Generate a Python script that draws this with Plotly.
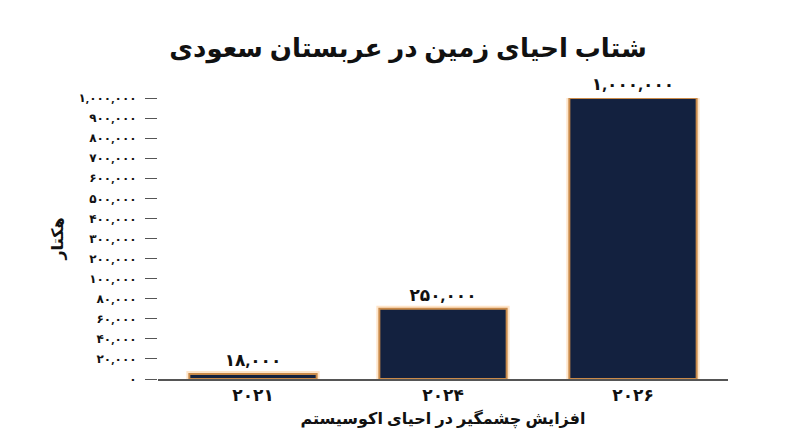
import plotly.graph_objects as go

years = ["۲۰۲۱", "۲۰۲۴", "۲۰۲۶"]
values = [18000, 250000, 1000000]
value_labels = ["۱۸,۰۰۰", "۲۵۰,۰۰۰", "۱,۰۰۰,۰۰۰"]
tick_labels = ["۰", "۲۰,۰۰۰", "۴۰,۰۰۰", "۶۰,۰۰۰", "۸۰,۰۰۰", "۱۰۰,۰۰۰", "۲۰۰,۰۰۰",
               "۳۰۰,۰۰۰", "۴۰۰,۰۰۰", "۵۰۰,۰۰۰", "۶۰۰,۰۰۰", "۷۰۰,۰۰۰", "۸۰۰,۰۰۰",
               "۹۰۰,۰۰۰", "۱,۰۰۰,۰۰۰"]
vmax = 1000000
tick_vals = [vmax * i / (len(tick_labels) - 1) for i in range(len(tick_labels))]

def b(s):
    return "<b>" + s + "</b>"

font = "Noto Sans, DejaVu Sans"
fig = go.Figure()
fig.add_trace(go.Bar(x=years, y=values, marker=dict(color="rgba(0,0,0,0)",
              line=dict(color="rgba(255,150,40,0.25)", width=6)), hoverinfo="skip"))
fig.add_trace(go.Bar(x=years, y=values, text=[b(v) for v in value_labels], textposition="outside",
              textfont=dict(size=17, color="#111", family=font),
              marker=dict(color="#13213f", line=dict(color="#c98a4a", width=2)),
              cliponaxis=False))
fig.update_layout(
    width=800, height=447, barmode="overlay", bargap=0.33, showlegend=False,
    paper_bgcolor="white", plot_bgcolor="white",
    margin=dict(l=150, r=80, t=90, b=76),
    title=dict(text="<b>شتاب احیای زمین در عربستان سعودی</b>", x=0.5, y=0.93,
               xanchor="center", font=dict(size=26, color="#111", family=font)),
    font=dict(family=font, color="#111"),
)
fig.update_yaxes(range=[0, vmax], tickvals=tick_vals, ticktext=[b(t) for t in tick_labels],
                 ticks="outside", ticklen=12, tickcolor="#555", showgrid=False,
                 ticklabelstandoff=6, tickfont=dict(size=12, color="#111"),
                 title=dict(text="<b>هکتار</b>", font=dict(size=16), standoff=10),
                 zeroline=False)
fig.update_xaxes(showline=True, linecolor="#555", linewidth=1.5,
                 tickfont=dict(size=17, color="#111"), ticktext=[b(y) for y in years], tickvals=years,
                 title=dict(text="<b>افزایش چشمگیر در احیای اکوسیستم</b>", font=dict(size=16), standoff=8))
fig.write_html("out.html")
